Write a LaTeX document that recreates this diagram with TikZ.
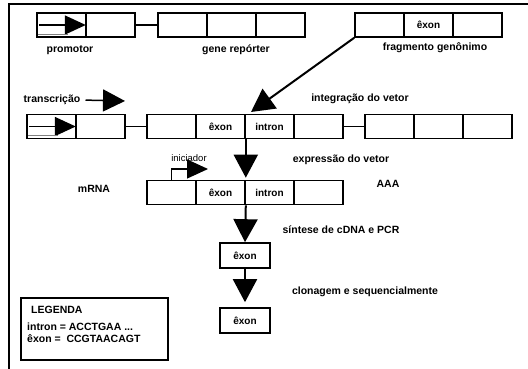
\documentclass[tikz,border=0pt]{standalone}
\usepackage{fontspec}
\setmainfont{Liberation Sans}
\usetikzlibrary{arrows.meta}

\begin{document}
\begin{tikzpicture}[x=1pt,y=-1pt]
\tikzset{cell/.style = {draw, line width=1.6pt, minimum width=49pt, minimum height=24pt, inner sep=0pt, font=\fontsize{10}{12}\selectfont\bfseries}}
\tikzset{txt/.style = {inner sep=0pt, font=\fontsize{10.5}{12}\selectfont\bfseries}}
\tikzset{link/.style = {line width=1.2pt}}
\tikzset{bigarrow/.style = {line width=2pt, -{Triangle[width=24pt,length=23pt]}}}
\tikzset{smallarrow/.style = {line width=1.5pt, -{Triangle[width=19pt,length=21pt]}}}
\useasboundingbox (0,0) rectangle (528,369);

% frame
\draw[line width=1.5pt] (9,369) -- (9,4) -- (528,4);

% row 1: vector and genomic fragment
\node[cell] (p1) at (61.5,25) {};
\node[cell] (p2) at (110.5,25) {};
\node[cell] (g1) at (182.5,25) {};
\node[cell] (g2) at (231.5,25) {};
\node[cell] (g3) at (280.5,25) {};
\node[cell] (f1) at (379.5,25) {};
\node[cell] (f2) at (428.5,25) {êxon};
\node[cell] (f3) at (477.5,25) {};

\node[txt] (prom) at (70,50) {promotor};
\node[txt] (gene) at (236,50) {gene repórter};
\node[txt] (frag) at (435,48) {fragmento genônimo};

\draw[link] (p2.east) -- (g1.west);
\draw[smallarrow, shorten <=3pt, shorten >=1pt] (p1.west) -- (p1.east);
\draw[gray, line width=0.8pt] ([xshift=2pt,yshift=3.5pt]p1.south west) -- ([xshift=32pt,yshift=3.5pt]p1.south west);

% row 2: integrated vector
\node[cell] (l1) at (51.5,126.5) {};
\node[cell] (l2) at (100.5,126.5) {};
\node[cell] (m1) at (171.5,126.5) {};
\node[cell] (m2) at (220.5,126.5) {êxon};
\node[cell] (m3) at (269.5,126.5) {intron};
\node[cell] (m4) at (318.5,126.5) {};
\node[cell] (v1) at (389.5,126.5) {};
\node[cell] (v2) at (438.5,126.5) {};
\node[cell] (v3) at (487.5,126.5) {};

\node[txt] (tr) at (52,100) {transcrição};
\node[txt] (integ) at (360,99) {integração do vetor};
\coordinate (trtip) at (125,101);
\coordinate (vtip) at (251,112);

\draw[link] (l2.east) -- (m1.west);
\draw[link] (m4.east) -- (v1.west);
\draw[smallarrow, shorten <=3pt, shorten >=1pt] (l1.west) -- (l1.east);
\draw[gray, line width=0.8pt] ([xshift=2pt,yshift=3.5pt]l1.south west) -- ([xshift=32pt,yshift=3.5pt]l1.south west);
\draw[smallarrow, -{Triangle[width=22pt,length=22pt]}, shorten <=5pt] (tr.east) -- (trtip);
\draw[bigarrow] (f1.south west) -- (vtip);

% row 3: mRNA
\node[cell] (r1) at (171.5,192.5) {};
\node[cell] (r2) at (220.5,192.5) {êxon};
\node[cell] (r3) at (269.5,192.5) {intron};
\node[cell] (r4) at (318.5,192.5) {};

\node[txt] (expr) at (341,160) {expressão do vetor};
\node[inner sep=0pt, font=\fontsize{9.5}{11}\selectfont] (ini) at (189,158) {iniciador};
\node[txt] (mrna) at (94,189) {mRNA};
\node[txt] (poly) at (388,184) {AAA};
\coordinate (initip) at (208,169);

\draw[smallarrow, line width=1.3pt] (r1.north) |- (initip);
\draw[bigarrow, shorten >=2pt] (m2.south east) -- (r2.north east);

% cDNA and clone
\node[cell, minimum width=50pt, minimum height=25pt] (e1) at (245,255.5) {êxon};
\node[cell, minimum width=50pt, minimum height=25pt] (e2) at (245,320.5) {êxon};

\node[txt] (pcr) at (341,230) {síntese de cDNA e PCR};
\node[txt] (clon) at (365,292) {clonagem e sequencialmente};

\draw[bigarrow] (r2.south east) -- (e1.north);
\draw[bigarrow, shorten >=5pt] (e1.south) -- (e2.north);

% legend
\node[draw, line width=1.6pt, minimum width=147pt, minimum height=62pt] (leg) at (94.5,329) {};
\node[txt, anchor=west] (legt) at (31,310) {LEGENDA};
\node[txt, anchor=west] (leg1) at (27,327) {intron = ACCTGAA ...};
\node[txt, anchor=west] (leg2) at (27,339) {êxon =\ \ CCGTAACAGT};
\end{tikzpicture}
\end{document}
